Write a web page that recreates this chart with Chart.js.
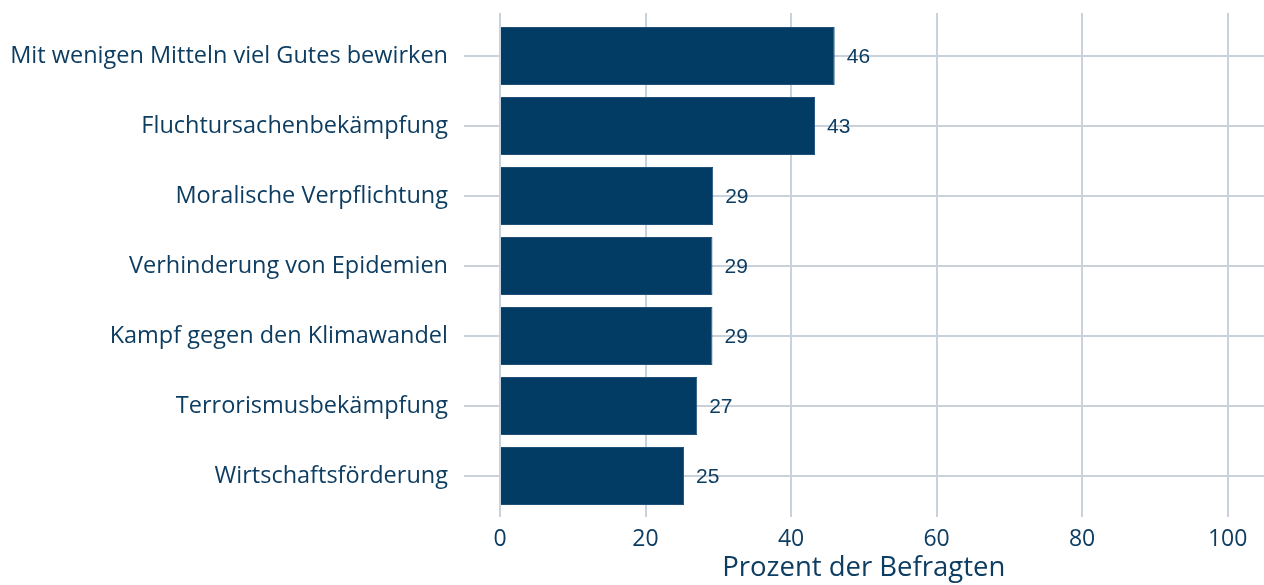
<!DOCTYPE html>
<html>
<head>
<meta charset="utf-8">
<script src="https://cdn.jsdelivr.net/npm/chart.js@4"></script>
<style>
  html, body { margin: 0; padding: 0; background: #fff; overflow: hidden; }
  #wrap { width: 1264px; height: 585px; }
</style>
</head>
<body>
<div id="wrap"><canvas id="chart"></canvas></div>
<script>
const categories = [
  'Mit wenigen Mitteln viel Gutes bewirken',
  'Fluchtursachenbekämpfung',
  'Moralische Verpflichtung',
  'Verhinderung von Epidemien',
  'Kampf gegen den Klimawandel',
  'Terrorismusbekämpfung',
  'Wirtschaftsförderung'
];
const values = [46.0, 43.3, 29.3, 29.2, 29.2, 27.1, 25.3];
const valueLabels = ['46', '43', '29', '29', '29', '27', '25'];
const xTicks = [0, 20, 40, 60, 80, 100];
const xTitle = 'Prozent der Befragten';

const navy = '#023b64';
const textColor = '#0e3d62';
const gridColor = '#c9d2db';

// Zahlen rechts neben den Balken + Achsentitel
const labelPlugin = {
  id: 'barLabels',
  afterDatasetsDraw(chart) {
    const ctx = chart.ctx;
    const meta = chart.getDatasetMeta(0);
    ctx.save();
    ctx.font = '21px "Liberation Sans", Arial, sans-serif';
    ctx.fillStyle = textColor;
    ctx.textAlign = 'left';
    ctx.textBaseline = 'middle';
    meta.data.forEach((bar, i) => {
      ctx.fillText(valueLabels[i], bar.x + 12, bar.y + 1);
    });
    const x = chart.scales.x;
    ctx.font = '27.5px "Open Sans", sans-serif';
    ctx.textAlign = 'center';
    ctx.textBaseline = 'middle';
    ctx.fillText(xTitle, (x.getPixelForValue(0) + x.getPixelForValue(100)) / 2, 568);
    ctx.restore();
  }
};

const yFont = { family: '"Open Sans", sans-serif', size: 23.5 };
const xFont = { family: '"Open Sans", sans-serif', size: 23 };

new Chart(document.getElementById('chart'), {
  type: 'bar',
  data: {
    labels: categories,
    datasets: [{
      data: values,
      backgroundColor: navy,
      borderColor: '#1f5079',
      borderWidth: 1,
      barPercentage: 0.83,
      categoryPercentage: 1
    }]
  },
  options: {
    indexAxis: 'y',
    responsive: true,
    maintainAspectRatio: false,
    animation: false,
    layout: { padding: { top: 13, bottom: 0, right: 0, left: 0 } },
    plugins: {
      legend: { display: false },
      tooltip: { enabled: false }
    },
    scales: {
      x: {
        min: 0,
        max: 105,
        afterBuildTicks: scale => { scale.ticks = xTicks.map(v => ({ value: v })); },
        afterFit: scale => { scale.height = 74; scale.paddingLeft = 0; scale.paddingRight = 0; },
        grid: { color: gridColor, lineWidth: 2, tickLength: 6 },
        border: { display: false },
        ticks: { color: textColor, font: xFont, padding: 9 }
      },
      x2: {
        position: 'top',
        min: 0,
        max: 105,
        afterBuildTicks: scale => { scale.ticks = xTicks.map(v => ({ value: v })); },
        afterFit: scale => { scale.height = 8; },
        grid: { color: gridColor, lineWidth: 2, tickLength: 8, drawOnChartArea: false },
        border: { display: false },
        ticks: { display: false }
      },
      y: {
        afterFit: scale => { scale.width = 500; scale.paddingTop = 0; scale.paddingBottom = 0; },
        grid: { color: gridColor, lineWidth: 2, tickLength: 36, offset: false },
        border: { display: false },
        ticks: { color: textColor, font: yFont, padding: 16 }
      }
    }
  },
  plugins: [labelPlugin]
});
</script>
</body>
</html>
